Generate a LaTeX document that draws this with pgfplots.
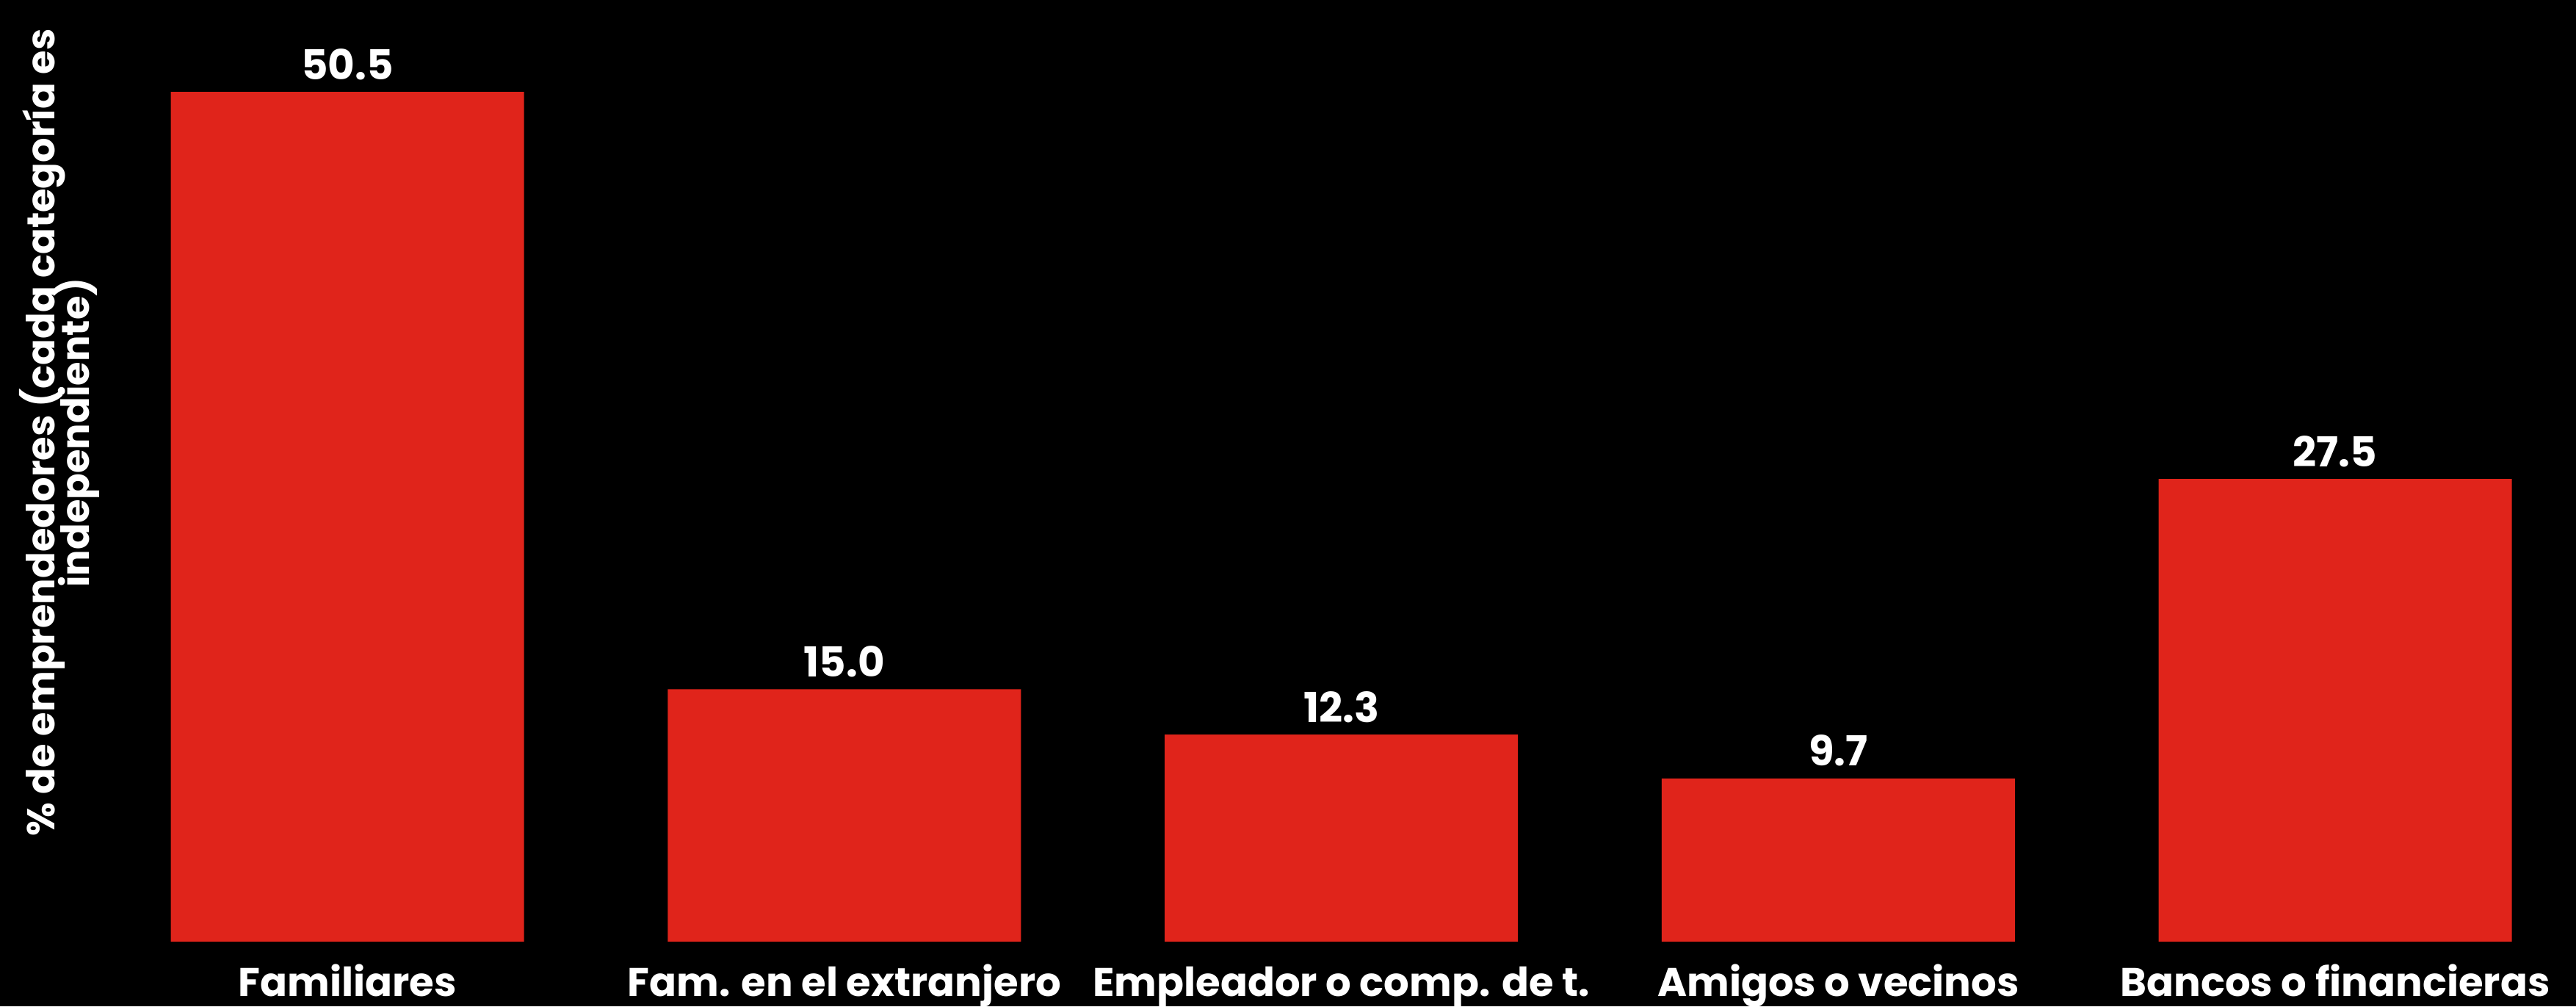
\documentclass[border=0pt]{standalone}
\usepackage{fontspec}
\setmainfont{Poppins}
\usepackage{pgfplots}
\pgfplotsset{compat=1.18}
\definecolor{barred}{RGB}{224,36,27}

\begin{document}
\begin{tikzpicture}
% black page, same proportions as the reference (1 px = 0.1 mm)
\path[fill=black, use as bounding box] (0,0) rectangle (350.8mm,137mm);
\begin{axis}[
    at={(13.48mm,8.8mm)}, anchor=south west,
    scale only axis,
    width=334.97mm, height=126mm,
    xmin=-0.5, xmax=4.45,
    ymin=0, ymax=55,
    ybar, bar width=48.1mm,
    axis line style={draw=none},
    major tick length=0pt,
    ytick=\empty,
    xtick=data,
    xticklabels={Familiares, Fam. en el extranjero, Empleador o comp. de t., Amigos o vecinos, Bancos o financieras},
    xticklabel style={font=\fontsize{15.5}{18}\selectfont\bfseries, text=white, anchor=base, yshift=-7.4mm},
    ylabel={\% de emprendedores (cada categoría es\\[-5.5pt]independiente)},
    ylabel style={at={(axis description cs:-0.0160,0.55)}, anchor=center, align=center,
        font=\fontsize{15}{17}\selectfont\bfseries, text=white},
    nodes near coords,
    point meta=y,
    nodes near coords style={font=\fontsize{16}{19}\selectfont\bfseries, text=white,
        anchor=base, yshift=1.7mm,
        /pgf/number format/.cd, fixed, fixed zerofill, precision=1, assume math mode=true},
]
\addplot[fill=barred, draw=none] coordinates {
    (0,50.5) (1,15.0) (2,12.3) (3,9.7) (4,27.5)
};
\end{axis}
\end{tikzpicture}
\end{document}
